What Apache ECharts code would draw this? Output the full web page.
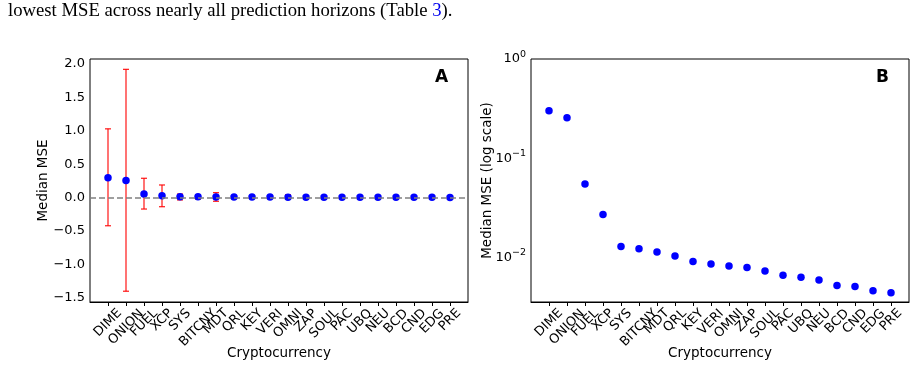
<!DOCTYPE html>
<html>
<head>
<meta charset="utf-8">
<script src="https://cdn.jsdelivr.net/npm/echarts@6/dist/echarts.min.js"></script>
<style>
  html, body { margin: 0; padding: 0; background: #fff; }
  #main { width: 916px; height: 369px; }
</style>
</head>
<body>
<div id="main"></div>
<script>
// coins on the x axis (same order in both panels)
const coins = ['DIME', 'ONION', 'FUEL', 'XCP', 'SYS', 'BITCNY', 'MDT', 'QRL', 'KEY', 'VERI',
  'OMNI', 'ZAP', 'SOUL', 'PAC', 'UBQ', 'NEU', 'BCD', 'CND', 'EDG', 'PRE'];
// median MSE per coin
const medianMse = [0.30, 0.256, 0.055, 0.027, 0.0129, 0.0122, 0.0113, 0.0103, 0.0091, 0.0086,
  0.0082, 0.0079, 0.0073, 0.0066, 0.0063, 0.0059, 0.0052, 0.0051, 0.0046, 0.0044];
// error bar ends (panel A)
const errLow = [-0.42, -1.40, -0.17, -0.135, -0.034, -0.02, -0.054, 0.004, 0.004, 0.003,
  -0.015, 0.003, 0.002, 0.002, 0.002, 0.002, 0.001, 0.001, 0.001, 0.001];
const errHigh = [1.03, 1.92, 0.29, 0.19, 0.055, 0.04, 0.075, 0.017, 0.014, 0.014,
  0.045, 0.013, 0.012, 0.011, 0.011, 0.01, 0.009, 0.009, 0.008, 0.008];
// tick labels
const yTicksA = [-1.5, -1.0, -0.5, 0.0, 0.5, 1.0, 1.5, 2.0];
const yTicksB = [0.01, 0.1, 1];
const yMinorB = [0.004, 0.005, 0.006, 0.007, 0.008, 0.009, 0.02, 0.03, 0.04, 0.05, 0.06, 0.07, 0.08, 0.09,
  0.2, 0.3, 0.4, 0.5, 0.6, 0.7, 0.8, 0.9];

// blank slot each side gives matplotlib-like margins
const xCats = [''].concat(coins, ['']);
const font = 'DejaVu Sans';

// rotated labels centred under their tick (matplotlib style):
// pad each one so its box centre drops by half its rotated height
const measure = document.createElement('canvas').getContext('2d');
measure.font = '13px "DejaVu Sans"';
const labelRich = {};
coins.forEach((c, i) => {
  const p = Math.round((measure.measureText(c).width + 9.5) / 2);
  labelRich['c' + i] = { padding: [p, p, 0, 0], fontSize: 13, fontFamily: font, color: '#000' };
});

const chart = echarts.init(document.getElementById('main'));

function xAxisFor(grid) {
  return {
    type: 'category', gridIndex: grid, data: xCats, boundaryGap: false,
    splitLine: { show: false },
    axisLine: { onZero: false, lineStyle: { color: '#000', width: 1 } },
    axisTick: { interval: (i, v) => v !== '', length: 4, lineStyle: { color: '#000' } },
    axisLabel: {
      interval: 0, rotate: 45, hideOverlap: false, align: 'center', verticalAlign: 'middle',
      formatter: v => v === '' ? '' : '{c' + coins.indexOf(v) + '|' + v + '}',
      rich: labelRich,
      fontSize: 13, fontFamily: font, color: '#000', margin: 6
    },
    name: 'Cryptocurrency', nameLocation: 'middle', nameGap: 44, nameMoveOverlap: false,
    nameTextStyle: { fontSize: 13.5, fontFamily: font, color: '#000' }
  };
}

const sup = { '0': '0', '-1': '−1', '-2': '−2' };

const option = {
  animation: false,
  backgroundColor: '#fff',
  graphic: [
    {
      type: 'text', x: 8, y: 2,
      style: {
        text: 'lowest MSE across nearly all prediction horizons (Table {b|3}).',
        font: '18.7px "Liberation Serif"', fill: '#000',
        rich: { b: { fill: '#0000ee', fontFamily: 'Liberation Serif', fontSize: 18.7 } }
      }
    },
    { type: 'text', x: 435, y: 69, style: { text: 'A', font: 'bold 17px "DejaVu Sans"', fill: '#000' } },
    { type: 'text', x: 876, y: 69, style: { text: 'B', font: 'bold 17px "DejaVu Sans"', fill: '#000' } }
  ],
  grid: [
    { left: 90, top: 59, width: 378, height: 243, show: true, borderColor: '#000', borderWidth: 1,
      containLabel: false, outerBoundsMode: 'none' },
    { left: 531, top: 59, width: 378, height: 243, show: true, borderColor: '#000', borderWidth: 1,
      containLabel: false, outerBoundsMode: 'none' }
  ],
  xAxis: [xAxisFor(0), xAxisFor(1)],
  yAxis: [
    {
      type: 'value', gridIndex: 0, min: -1.561, max: 2.075,
      splitLine: { show: false },
      axisLine: { onZero: false, lineStyle: { color: '#000', width: 1 } },
      axisTick: { customValues: yTicksA, length: 4, lineStyle: { color: '#000' } },
      axisLabel: {
        customValues: yTicksA, fontSize: 13, fontFamily: font, color: '#000', margin: 5,
        showMinLabel: true, showMaxLabel: true,
        formatter: v => (v < 0 ? '−' : '') + Math.abs(v).toFixed(1)
      },
      name: 'Median MSE', nameLocation: 'middle', nameGap: 40, nameMoveOverlap: false,
      nameTextStyle: { fontSize: 13.5, fontFamily: font, color: '#000' }
    },
    {
      type: 'log', logBase: 10, gridIndex: 1, min: 0.00355, max: 1, position: 'left',
      splitLine: { show: false },
      axisLine: { onZero: false, lineStyle: { color: '#000', width: 1 } },
      axisTick: { customValues: yTicksB, length: 4, lineStyle: { color: '#000' } },
      axisLabel: {
        customValues: yTicksB, color: '#000', margin: 5,
        showMinLabel: true, showMaxLabel: true,
        formatter: v => '{b|10}{s|' + sup[String(Math.round(Math.log10(v)))] + '}',
        rich: {
          b: { fontSize: 13, fontFamily: font, color: '#000' },
          s: { fontSize: 9.5, fontFamily: font, color: '#000', verticalAlign: 'top', padding: [0, 0, 9, 0] }
        }
      },
      name: 'Median MSE (log scale)', nameLocation: 'middle', nameGap: 37, nameMoveOverlap: false,
      nameTextStyle: { fontSize: 13.5, fontFamily: font, color: '#000' }
    },
    {
      type: 'log', logBase: 10, gridIndex: 1, min: 0.00355, max: 1, position: 'left',
      splitLine: { show: false },
      axisLine: { show: false, onZero: false },
      axisTick: { customValues: yMinorB, length: 2, lineStyle: { color: '#000' } },
      axisLabel: { show: false }
    }
  ],
  series: [
    {
      type: 'custom', xAxisIndex: 0, yAxisIndex: 0, z: 2, silent: true,
      data: coins.map((c, i) => [c, errLow[i], errHigh[i]]),
      renderItem: (params, api) => {
        const lo = api.coord([api.value(0), api.value(1)]);
        const hi = api.coord([api.value(0), api.value(2)]);
        const st = { stroke: 'rgba(255,0,0,0.85)', lineWidth: 1.3 };
        return {
          type: 'group', children: [
            { type: 'line', shape: { x1: lo[0], y1: lo[1], x2: hi[0], y2: hi[1] }, style: st },
            { type: 'line', shape: { x1: lo[0] - 3, y1: lo[1], x2: lo[0] + 3, y2: lo[1] }, style: st },
            { type: 'line', shape: { x1: hi[0] - 3, y1: hi[1], x2: hi[0] + 3, y2: hi[1] }, style: st }
          ]
        };
      },
      markLine: {
        silent: true, symbol: 'none', label: { show: false },
        lineStyle: { color: '#808080', width: 1.5, type: [6, 3] },
        data: [{ yAxis: 0 }]
      }
    },
    {
      type: 'scatter', xAxisIndex: 0, yAxisIndex: 0, z: 3, symbolSize: 7.5,
      itemStyle: { color: '#0000ff', opacity: 1 },
      data: coins.map((c, i) => [c, medianMse[i]])
    },
    {
      type: 'scatter', xAxisIndex: 1, yAxisIndex: 1, z: 3, symbolSize: 7.5,
      itemStyle: { color: '#0000ff', opacity: 1 },
      data: coins.map((c, i) => [c, medianMse[i]])
    }
  ]
};

chart.setOption(option);
</script>
</body>
</html>
